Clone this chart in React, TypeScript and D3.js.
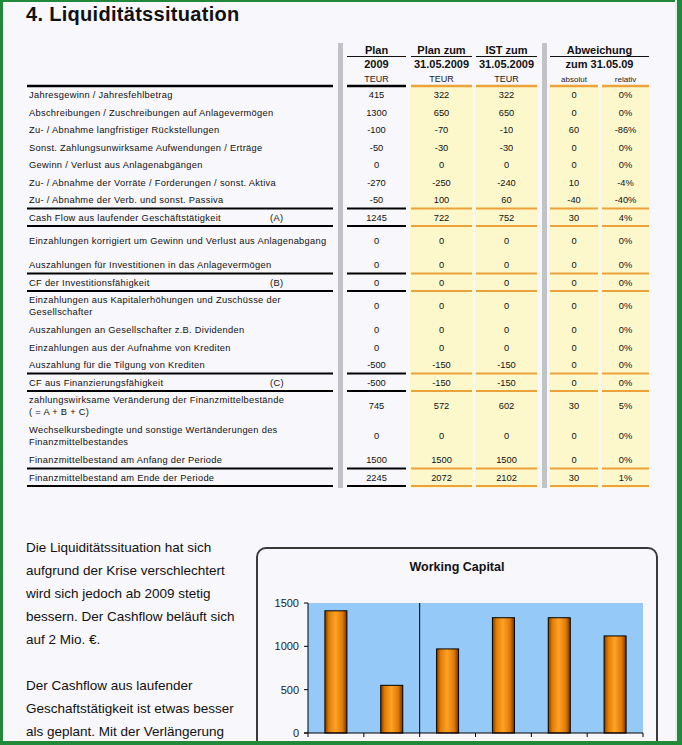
import React from 'react';
import * as d3 from 'd3';

// ---------- DATA ----------
const rowLabels: string[][] = [
  ['Jahresgewinn / Jahresfehlbetrag'],
  ['Abschreibungen / Zuschreibungen auf Anlagevermögen'],
  ['Zu- / Abnahme langfristiger Rückstellungen'],
  ['Sonst. Zahlungsunwirksame Aufwendungen / Erträge'],
  ['Gewinn / Verlust aus Anlagenabgängen'],
  ['Zu- / Abnahme der Vorräte / Forderungen / sonst. Aktiva'],
  ['Zu- / Abnahme der Verb. und sonst. Passiva'],
  ['Cash Flow aus laufender Geschäftstätigkeit'],
  ['Einzahlungen korrigiert um Gewinn und Verlust aus Anlagenabgang'],
  ['Auszahlungen für Investitionen in das Anlagevermögen'],
  ['CF der Investitionsfähigkeit'],
  ['Einzahlungen aus Kapitalerhöhungen und Zuschüsse der', 'Gesellschafter'],
  ['Auszahlungen an Gesellschafter z.B. Dividenden'],
  ['Einzahlungen aus der Aufnahme von Krediten'],
  ['Auszahlung für die Tilgung von Krediten'],
  ['CF aus Finanzierungsfähigkeit'],
  ['zahlungswirksame Veränderung der Finanzmittelbestände', '( = A + B + C)'],
  ['Wechselkursbedingte und sonstige Wertänderungen des', 'Finanzmittelbestandes'],
  ['Finanzmittelbestand am Anfang der Periode'],
  ['Finanzmittelbestand am Ende der Periode'],
];
const rowTags = ['', '', '', '', '', '', '', '(A)', '', '', '(B)', '', '', '', '', '(C)', '', '', '', ''];
const tallRows = [false, false, false, false, false, false, false, false, true, false, false, true, false, false, false, false, true, true, false, false];
const ruledRows = [false, false, false, false, false, false, true, true, false, true, true, false, false, false, true, true, false, false, true, true];

const plan2009 = [415, 1300, -100, -50, 0, -270, -50, 1245, 0, 0, 0, 0, 0, 0, -500, -500, 745, 0, 1500, 2245];
const planZum = [322, 650, -70, -30, 0, -250, 100, 722, 0, 0, 0, 0, 0, 0, -150, -150, 572, 0, 1500, 2072];
const istZum = [322, 650, -10, -30, 0, -240, 60, 752, 0, 0, 0, 0, 0, 0, -150, -150, 602, 0, 1500, 2102];
const absolut = [0, 0, 60, 0, 0, 10, -40, 30, 0, 0, 0, 0, 0, 0, 0, 0, 30, 0, 0, 30];
const relativ = ['0%', '0%', '-86%', '0%', '0%', '-4%', '-40%', '4%', '0%', '0%', '0%', '0%', '0%', '0%', '0%', '0%', '5%', '0%', '0%', '1%'];

const paragraphLines = [
  'Die Liquiditätssituation hat sich',
  'aufgrund der Krise verschlechtert',
  'wird sich jedoch ab 2009 stetig',
  'bessern. Der Cashflow beläuft sich',
  'auf 2 Mio. €.',
  '',
  'Der Cashflow aus laufender',
  'Geschaftstätigkeit ist etwas besser',
  'als geplant. Mit der Verlängerung',
];

const wcCategories = ['1', '2', '3', '4', '5', '6'];
const wcValues = [1410, 550, 970, 1330, 1330, 1120];
const wcTicks = [0, 500, 1000, 1500];

// ---------- LAYOUT ----------
const W = 682;
const H = 745;
const FONT = 'Liberation Sans, Arial, sans-serif';
const BG = '#f8f7fc';
const YELLOW = '#fdf8cc';
const ORANGE = '#eba23a';
const GRAY = '#c3c2ca';

const tableTop = 86;
const normalH = 17.5;
const tallH = 30;

const cols = [
  { x0: 347, x1: 406, yellow: false, vals: plan2009.map(String) },
  { x0: 411, x1: 472, yellow: true, vals: planZum.map(String) },
  { x0: 476, x1: 537, yellow: true, vals: istZum.map(String) },
  { x0: 550, x1: 598, yellow: true, vals: absolut.map(String) },
  { x0: 602, x1: 649, yellow: true, vals: relativ },
];

export default function App() {
  const rowTops: number[] = [];
  let acc = tableTop;
  tallRows.forEach((t) => {
    rowTops.push(acc);
    acc += t ? tallH : normalH;
  });
  const tableBottom = acc;
  const rowH = (i: number) => (tallRows[i] ? tallH : normalH);

  const plotL = 308, plotR = 643, plotT = 603, plotB = 733;
  const x = d3.scaleBand<string>().domain(wcCategories).range([plotL, plotR]).padding(0);
  const y = d3.scaleLinear().domain([0, 1500]).range([plotB, plotT]);
  const barW = 22;

  return (
    <div style={{ position: 'absolute', left: 0, top: 0 }}>
      <svg width={W} height={H} style={{ display: 'block', fontFamily: FONT }}>
        <defs>
          <linearGradient id="barGrad" x1="0" x2="1" y1="0" y2="0">
            <stop offset="0%" stopColor="#7a3a00" />
            <stop offset="18%" stopColor="#e27c00" />
            <stop offset="48%" stopColor="#ffa22a" />
            <stop offset="80%" stopColor="#e07800" />
            <stop offset="100%" stopColor="#6a3200" />
          </linearGradient>
        </defs>
        <rect x={0} y={0} width={W} height={H} fill={BG} />

        <text x={26} y={21} fontSize={20} fontWeight="bold" fill="#111" letterSpacing={0.3}>
          4. Liquiditätssituation
        </text>

        <rect x={338} y={43} width={5} height={tableBottom - 43 + 2} fill={GRAY} />
        <rect x={542} y={43} width={5} height={tableBottom - 43 + 2} fill={GRAY} />

        {cols.filter((c) => c.yellow).map((c, i) => (
          <rect key={'yb' + i} x={c.x0 - 1} y={tableTop} width={c.x1 - c.x0 + 2} height={tableBottom - tableTop + 2} fill={YELLOW} />
        ))}

        <g fontWeight="bold" fontSize={11} fill="#111" textAnchor="middle">
          <text x={376.5} y={54}>Plan</text>
          <text x={376.5} y={68}>2009</text>
          <text x={441.5} y={54}>Plan zum</text>
          <text x={441.5} y={68}>31.05.2009</text>
          <text x={506.5} y={54}>IST zum</text>
          <text x={506.5} y={68}>31.05.2009</text>
          <text x={599.5} y={54}>Abweichung</text>
          <text x={599.5} y={68}>zum 31.05.09</text>
        </g>
        <g stroke="#111" strokeWidth={1}>
          <line x1={347} x2={406} y1={56.5} y2={56.5} />
          <line x1={411} x2={472} y1={56.5} y2={56.5} />
          <line x1={476} x2={537} y1={56.5} y2={56.5} />
          <line x1={550} x2={649} y1={56.5} y2={56.5} />
        </g>
        <g fontSize={9} fill="#222" textAnchor="middle">
          <text x={376.5} y={82}>TEUR</text>
          <text x={441.5} y={82}>TEUR</text>
          <text x={506.5} y={82}>TEUR</text>
          <text x={574} y={82} fontSize={8}>absolut</text>
          <text x={625.5} y={82} fontSize={8}>relativ</text>
        </g>

        <line x1={27} x2={333} y1={tableTop} y2={tableTop} stroke="#000" strokeWidth={2.5} />
        {cols.map((c, i) => (
          <line key={'hr' + i} x1={c.x0} x2={c.x1} y1={tableTop} y2={tableTop} stroke={c.yellow ? ORANGE : '#000'} strokeWidth={2.5} />
        ))}

        {rowLabels.map((lines, i) => {
          const top = rowTops[i];
          const cy = top + rowH(i) / 2;
          const bottom = top + rowH(i);
          return (
            <g key={'row' + i}>
              {lines.map((ln, j) => (
                <text
                  key={j}
                  x={29}
                  y={cy + (j - (lines.length - 1) / 2) * 12}
                  dy="0.35em"
                  fontSize={9.3}
                  letterSpacing={0.3}
                  fill="#111"
                >
                  {ln}
                </text>
              ))}
              {rowTags[i] && (
                <text x={270} y={cy} dy="0.35em" fontSize={9.3} letterSpacing={0.3} fill="#111">
                  {rowTags[i]}
                </text>
              )}
              {cols.map((c, k) => (
                <text
                  key={'v' + k}
                  x={(c.x0 + c.x1) / 2}
                  y={cy}
                  dy="0.35em"
                  fontSize={9.3}
                  textAnchor="middle"
                  fill="#111"
                >
                  {c.vals[i]}
                </text>
              ))}
              {ruledRows[i] && (
                <g>
                  <line x1={27} x2={333} y1={bottom} y2={bottom} stroke="#000" strokeWidth={2.2} />
                  {cols.map((c, k) => (
                    <line key={'r' + k} x1={c.x0} x2={c.x1} y1={bottom} y2={bottom} stroke={c.yellow ? ORANGE : '#000'} strokeWidth={2.2} />
                  ))}
                </g>
              )}
            </g>
          );
        })}

        <g fontSize={13.5} fill="#111">
          {paragraphLines.map((ln, i) => (
            <text key={'p' + i} x={26} y={552 + i * 23}>
              {ln}
            </text>
          ))}
        </g>

        <rect x={257} y={548} width={400} height={260} rx={9} ry={9} fill={BG} stroke="#3a3a3a" strokeWidth={2} />
        <text x={457} y={571} textAnchor="middle" fontSize={12.5} fontWeight="bold" fill="#111">
          Working Capital
        </text>

        <rect x={plotL} y={plotT} width={plotR - plotL} height={plotB - plotT} fill="#95c9f7" />
        <line x1={x(wcCategories[2])!} x2={x(wcCategories[2])!} y1={plotT} y2={plotB} stroke="#000" strokeWidth={1} />

        {wcCategories.map((c, i) => (
          <rect
            key={'bar' + c}
            x={x(c)! + x.bandwidth() / 2 - barW / 2}
            y={y(wcValues[i])}
            width={barW}
            height={plotB - y(wcValues[i])}
            fill="url(#barGrad)"
            stroke="#000"
            strokeWidth={1}
          />
        ))}

        <line x1={plotL} x2={plotL} y1={plotT} y2={plotB} stroke="#000" strokeWidth={1} />
        <line x1={plotL - 4} x2={plotR} y1={plotB} y2={plotB} stroke="#000" strokeWidth={1} />
        {wcTicks.map((t) => (
          <g key={'yt' + t}>
            <line x1={plotL - 4} x2={plotL} y1={y(t)} y2={y(t)} stroke="#000" />
            <text x={plotL - 9} y={y(t)} dy="0.35em" textAnchor="end" fontSize={11} fill="#222">
              {t}
            </text>
          </g>
        ))}
        {[...wcCategories.map((c) => x(c)!), plotR].map((v, i) => (
          <line key={'xt' + i} x1={v} x2={v} y1={plotB} y2={plotB + 4} stroke="#000" />
        ))}

        <rect x={0} y={0} width={3} height={H} fill="#23893a" />
        <rect x={0} y={0} width={W} height={2} fill="#23893a" />
        <rect x={677} y={0} width={5} height={H} fill="#23893a" />
        <rect x={675} y={0} width={2} height={H} fill="#e6efe6" />
        <rect x={0} y={741} width={W} height={4} fill="#23893a" />
      </svg>
    </div>
  );
}
